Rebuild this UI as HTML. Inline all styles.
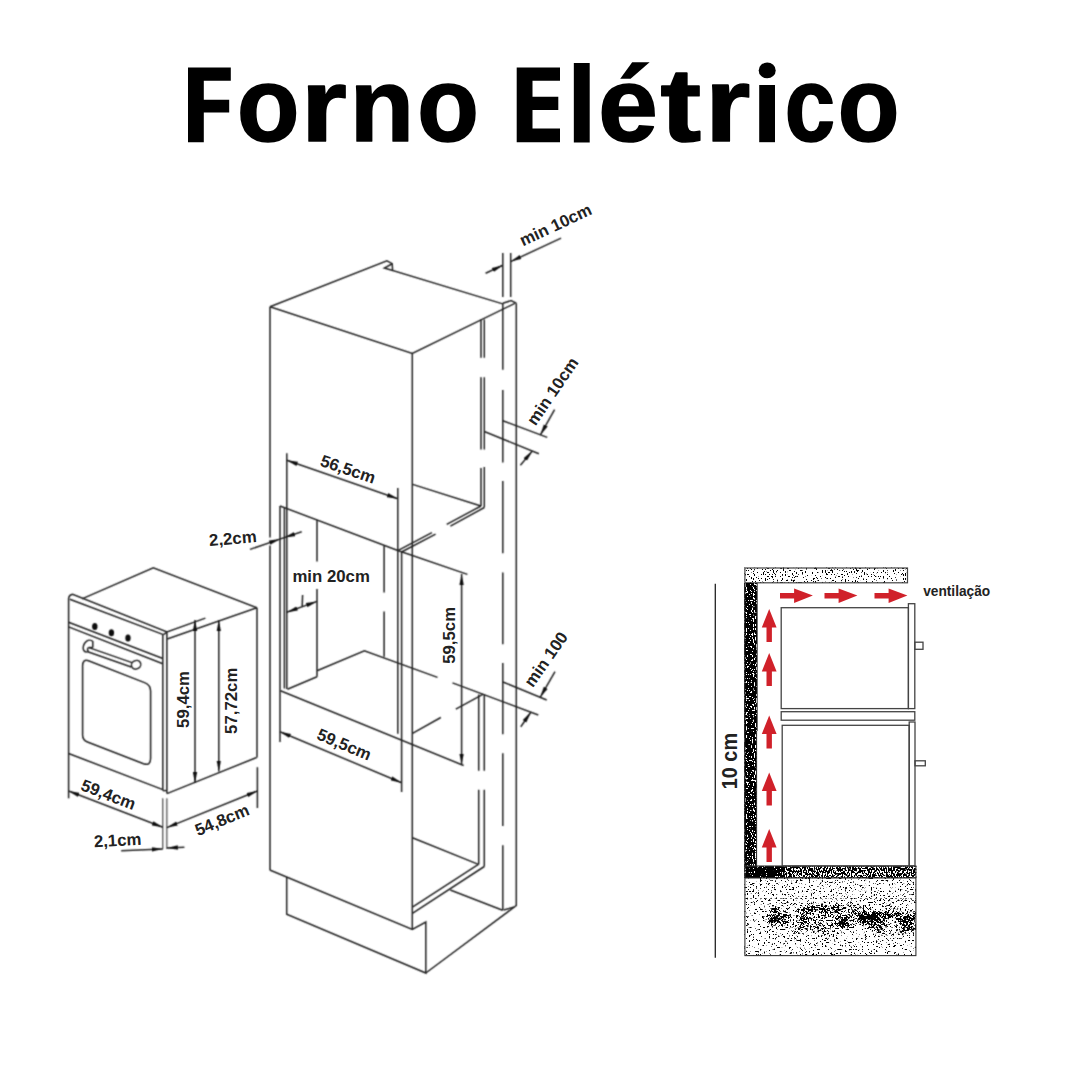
<!DOCTYPE html>
<html><head><meta charset="utf-8"><title>Forno Elétrico</title>
<style>
html,body{margin:0;padding:0;background:#fff;}
body{width:1080px;height:1080px;overflow:hidden;}
svg{display:block;}
.t{font-family:"Liberation Sans",sans-serif;font-weight:bold;fill:#222;}
.l{stroke:#222;stroke-width:1.5;fill:none;stroke-linecap:butt;}
.g{stroke:#3a3a3a;stroke-width:1.3;fill:none;}
</style></head>
<body>
<svg width="1080" height="1080" viewBox="0 0 1080 1080">
<defs>
<marker id="ah" viewBox="0 0 11 5" refX="11" refY="2.5" markerWidth="11" markerHeight="5" markerUnits="userSpaceOnUse" orient="auto-start-reverse"><path d="M0,0.3 L11,2.5 L0,4.7 z" fill="#111"/></marker>
<filter id="soft" x="0" y="0" width="1080" height="1080" filterUnits="userSpaceOnUse"><feConvolveMatrix order="3" kernelMatrix="1 3 1 3 9 3 1 3 1" divisor="25" edgeMode="none" preserveAlpha="false"/></filter>
</defs>
<rect width="1080" height="1080" fill="#fff"/>
<!-- TITLE -->
<g font-family="Liberation Sans, sans-serif" font-weight="bold" fill="#000" font-size="100">
<path d="M188,67.5 H230.8 V80.8 H203.8 V99.7 H229.2 V112.5 H203.8 V142.2 H188 Z"/>
<path d="M516.7,67.5 H560 V80.8 H532.5 V96.7 H558.3 V110 H532.5 V128.6 H560 V142.2 H516.7 Z"/>
<text transform="translate(237.11,141.40) scale(1.0212,1.0482)" stroke="#000" stroke-width="1.6" stroke-linejoin="round">o</text>
<text transform="translate(301.06,141.40) scale(1.1749,1.0472)" stroke="#000" stroke-width="1.6" stroke-linejoin="round">r</text>
<text transform="translate(349.65,141.40) scale(1.0540,1.0472)" stroke="#000" stroke-width="1.6" stroke-linejoin="round">n</text>
<text transform="translate(417.36,141.40) scale(1.0080,1.0482)" stroke="#000" stroke-width="1.6" stroke-linejoin="round">o</text>
<text transform="translate(565.71,142.20) scale(1.1588,1.0999)">l</text>
<text transform="translate(598.32,141.40) scale(1.0706,1.0482)" stroke="#000" stroke-width="1.6" stroke-linejoin="round">e</text>
<path d="M632.2,62.2 L649.6,62.2 L630.6,78.8 L620.2,78.8 Z"/>
<text transform="translate(660.61,141.40) scale(1.2184,1.0439)" stroke="#000" stroke-width="1.6" stroke-linejoin="round">t</text>
<text transform="translate(705.18,141.40) scale(1.1554,1.0472)" stroke="#000" stroke-width="1.6" stroke-linejoin="round">r</text>
<path d="M759.2,85 H775 V142.2 H759.2 Z"/>
<ellipse cx="767.2" cy="70.4" rx="8.5" ry="7.9"/>
<text transform="translate(784.76,141.40) scale(0.9061,1.0482)" stroke="#000" stroke-width="1.6" stroke-linejoin="round">c</text>
<text transform="translate(837.85,141.40) scale(1.0099,1.0482)" stroke="#000" stroke-width="1.6" stroke-linejoin="round">o</text>
</g>
<g id="diagram" filter="url(#soft)">
<!-- BIG CABINET -->
<g class="l" id="cab">
<!-- top face -->
<path d="M270,306.7 L386.9,260.8 L392.2,263.6 L392.6,270.5 L502.7,303.9"/>
<path d="M391.8,264 L384.4,268 L392.6,270.5"/>
<path d="M270,306.7 L412.3,353.5 L514.8,303.4"/>
<path d="M502.8,303.3 L511,300.6 L516.3,303.2"/>
<!-- left vertical (gap at 2,2 dim) -->
<path d="M270,306.7 V537.5 M270,545.5 V870"/>
<!-- front vertical -->
<path d="M412.3,353.5 V929.4"/>
<!-- bottom front edge and plinth -->
<path d="M269.8,870 L412.3,929.4 L425.8,922 V973 L286.7,914.2 V877.2"/>
<path d="M425.8,973 L514.4,907 L516.3,905.5"/>
<path d="M503.6,910 L514.4,907"/>
<path d="M450.3,890 L502.6,910.2"/>
<!-- side wall panel -->
<path d="M516.3,303.2 V906"/>
<path d="M502.8,303.3 V369.8 M502.8,390 V462.4 M502.8,481 V553.3 M502.8,572.6 V644.2 M502.8,663 V734.2 M502.8,753.3 V826 M502.8,845.2 V910.2"/>
<!-- inner back dashed double lines (upper) -->
<path d="M481,319.6 V357.8 M481,377.2 V449.4 M481,468 V506 M484.3,319.6 V357.8 M484.3,377.2 V449.4 M484.3,467 V507.5"/>
<!-- upper compartment shelf -->
<path d="M412.6,484.4 L480.9,506"/>
<path d="M481,506 L446.7,524.4 M484.3,507.5 L450.4,526.2 M431.9,532.6 L397.8,550.6 M435.6,534.1 L401.5,552"/>
<!-- oven niche -->
<path d="M280,506 L397.8,550.5 L467.4,574.4"/>
<path d="M280,506 V741.9"/>
<path d="M284.4,507.6 V688.5"/>
<path d="M286.8,453.3 V689"/>
<path d="M317,520 V561.5 M317,588.9 V676.7"/>
<path d="M384.1,546 V592.6 M384.1,611.5 V656.7"/>
<path d="M397.8,488.1 V733.7"/>
<path d="M401.6,552 V792"/>
<path d="M287.4,689.3 L317,676.7 M317,670.7 L364.4,650.7 L437.5,677.4 M452.5,682.9 L538.3,715"/>
<path d="M280.5,690.7 L463.6,765.5"/>
<!-- lower niche -->
<path d="M483.3,694.2 L455.8,709.2 M440.8,717.5 L412.5,733.3"/>
<path d="M478.7,694.6 V770.8 M478.7,789.8 V864.4 M484.3,694.2 V770.8 M484.3,789.8 V866.5"/>
<!-- lower compartment -->
<path d="M412.4,837.8 L478.4,864.4"/>
<path d="M478.4,864.4 L412.4,907.2 M484.3,866.5 L412.4,913.4"/>
<path d="M401.6,740 L440,756.7" stroke-width="0"/>
</g>
<!-- DIMENSIONS (big cabinet) -->
<g class="l" stroke-width="1.35">
<!-- min 10cm top -->
<path d="M502.8,253 V297 M510.7,253 V297"/>
<path d="M485.6,273.3 L502.8,265.3" marker-end="url(#ah)"/>
<path d="M561.1,238.1 L510.7,261.6" marker-end="url(#ah)"/>
<!-- min 10cm middle -->
<path d="M502.8,420.7 L547.2,437.4 M484.3,431.5 L538.9,453.7"/>
<path d="M554.6,409.6 L540.4,434.9" marker-end="url(#ah)"/>
<path d="M520.4,465.2 L532.3,451" marker-end="url(#ah)"/>
<!-- min 100 -->
<path d="M503,682 L546.7,700"/>
<path d="M555,671.7 L540.2,697.3" marker-end="url(#ah)"/>
<path d="M520.8,726.7 L530.8,712.3" marker-end="url(#ah)"/>
<!-- 56,5cm -->
<path d="M286.8,460.2 L397.8,498.8" marker-start="url(#ah)" marker-end="url(#ah)"/>
<!-- 59,5 vertical -->
<path d="M461.6,574 V764.5" marker-start="url(#ah)" marker-end="url(#ah)"/>
<!-- 59,5 bottom -->
<path d="M280,731.7 L401.6,782.7" marker-start="url(#ah)" marker-end="url(#ah)"/>
<!-- min 20 -->
<path d="M286.8,612.2 L317,601.4" marker-start="url(#ah)" marker-end="url(#ah)"/>
<path d="M302.6,595 L302.2,606.2"/>
<!-- 2,2 -->
<path d="M250,549.4 L280,539.1" marker-end="url(#ah)"/>
<path d="M301.7,531.7 L284.4,537.6" marker-end="url(#ah)"/>
<path d="M279,539.4 L285.4,537.3"/>
</g>

<!-- OVEN -->
<g class="l">
<!-- top -->
<path d="M82,598.9 L153.3,567.8 L256.9,607.8"/>
<path d="M68.6,598 Q69.5,594.6 72.6,594.3 L167,632 L205.4,618.1"/>
<path d="M167.2,639 L256.9,607.8"/>
<path d="M69.8,599.2 L163.4,634.6"/>
<path d="M163.4,634.6 L167,632.2"/>
<!-- left edge -->
<path d="M68.6,598 V798.3"/>
<!-- right back vertical -->
<path d="M257,607.8 V757.6"/>
<!-- front bezel verticals -->
<path d="M162.8,634.6 V790.6 M166.9,632.4 V793.6"/>
<path d="M162.8,790.6 L166.9,790.6"/>
<path d="M162.8,798.3 V848.9 M166.9,798.3 V848.9" stroke-width="1"/>
<!-- side -->
<path d="M166.9,793.6 L256.6,757.5"/>
<!-- control panel -->
<path d="M68.6,622.2 L162.8,658.5 M68.6,626.9 L162.8,663.7"/>
<!-- handle -->
<path d="M89,647.6 L132,662.6 M87.8,651.7 L131.2,667"/>
<path d="M92.8,647.6 V641.6 C91.2,639.8 88.4,639.9 86.4,641.4 C83.6,643.6 82.4,647.6 83.6,650.2 C84.6,652 86.6,652.2 88,651.6"/>
<path d="M88.4,651.4 C87,650.2 87.2,648 89,647.4 L92.8,647.6"/>
<ellipse cx="136.1" cy="664.8" rx="4.8" ry="4.2" transform="rotate(-30 136.1 664.8)"/>
<!-- door bottom -->
<path d="M68.6,753.5 L162.8,789.6"/>
<!-- window -->
<path d="M82.6,666 Q82.6,659 88.5,660.7 L144.5,682.6 Q150.6,685 150.6,691 V758.5 Q150.6,766 143.5,763.8 L87.5,742 Q82.6,740 82.6,735 Z"/>
</g>
<g fill="#111">
<ellipse cx="94.8" cy="626.4" rx="2.7" ry="3.5"/>
<ellipse cx="111.4" cy="632.8" rx="2.7" ry="3.5"/>
<ellipse cx="128" cy="638" rx="2.7" ry="3.5"/>
</g>
<g class="l" stroke-width="1.35">
<path d="M195,620 V783" marker-start="url(#ah)" marker-end="url(#ah)"/>
<path d="M218.8,620.3 V771.5" marker-start="url(#ah)" marker-end="url(#ah)"/>
<path d="M257.4,767.2 V808"/>
<path d="M68.6,791 L162.8,827.3" marker-start="url(#ah)" marker-end="url(#ah)"/>
<path d="M166.9,827.6 L257.4,791" marker-start="url(#ah)" marker-end="url(#ah)"/>
<path d="M121.2,850.8 L162.8,848.9" marker-end="url(#ah)"/>
<path d="M184.4,847.3 L166.9,848" marker-end="url(#ah)"/>
</g>

</g>
<!-- RIGHT DIAGRAM -->
<defs>
<filter id="spLight" x="0" y="0" width="1" height="1" color-interpolation-filters="sRGB">
<feTurbulence type="fractalNoise" baseFrequency="0.9 0.5" numOctaves="2" seed="7" result="n"/>
<feColorMatrix in="n" type="matrix" values="0 0 0 0 0  0 0 0 0 0  0 0 0 0 0  30 0 0 0 -18.5" result="m"/>
<feComposite in="m" in2="SourceGraphic" operator="in"/>
</filter>
<filter id="spDark" x="0" y="0" width="1" height="1" color-interpolation-filters="sRGB">
<feTurbulence type="fractalNoise" baseFrequency="0.9 0.5" numOctaves="2" seed="3" result="n"/>
<feColorMatrix in="n" type="matrix" values="0 0 0 0 0  0 0 0 0 0  0 0 0 0 0  30 0 0 0 -11" result="m"/>
<feComposite in="m" in2="SourceGraphic" operator="in"/>
</filter>
<filter id="spBand" x="0" y="0" width="1" height="1" color-interpolation-filters="sRGB">
<feTurbulence type="fractalNoise" baseFrequency="0.8 0.45" numOctaves="2" seed="5" result="n"/>
<feColorMatrix in="n" type="matrix" values="0 0 0 0 0  0 0 0 0 0  0 0 0 0 0  30 0 0 0 -13.5" result="m"/>
<feComposite in="m" in2="SourceGraphic" operator="in"/>
</filter>
<filter id="spBase" x="0" y="0" width="1" height="1" color-interpolation-filters="sRGB">
<feTurbulence type="fractalNoise" baseFrequency="0.55" numOctaves="2" seed="11" result="f"/>
<feColorMatrix in="f" type="matrix" values="0 0 0 0 0  0 0 0 0 0  0 0 0 0 0  14 0 0 0 -8.7" result="m"/>
<feComposite in="m" in2="SourceGraphic" operator="in"/>
</filter>
<filter id="spSoft" x="0" y="0" width="1" height="1" color-interpolation-filters="sRGB">
<feTurbulence type="fractalNoise" baseFrequency="0.6" numOctaves="2" seed="21" result="f"/>
<feColorMatrix in="f" type="matrix" values="1 0 0 0 0  1 0 0 0 0  1 0 0 0 0  0 0 0 0 1" result="f2"/>
<feTurbulence type="fractalNoise" baseFrequency="0.06 0.08" numOctaves="2" seed="9" result="c"/>
<feColorMatrix in="c" type="matrix" values="1 0 0 0 0  1 0 0 0 0  1 0 0 0 0  0 0 0 0 1" result="c2"/>
<feComposite in="f2" in2="c2" operator="arithmetic" k1="0" k2="1" k3="0.8" k4="-0.4" result="s"/>
<feColorMatrix in="s" type="matrix" values="0 0 0 0 0  0 0 0 0 0  0 0 0 0 0  1.6 0 0 0 -0.3" result="m"/>
<feComposite in="m" in2="SourceGraphic" operator="in"/>
</filter>
<filter id="thr" x="744" y="877" width="173" height="80" filterUnits="userSpaceOnUse" color-interpolation-filters="sRGB">
<feComponentTransfer><feFuncA type="linear" slope="12" intercept="-5.1"/></feComponentTransfer>
</filter>
<linearGradient id="blotG" x1="0" y1="0" x2="0" y2="1">
<stop offset="0" stop-color="#fff" stop-opacity="0"/>
<stop offset="0.3" stop-color="#fff" stop-opacity="0.55"/>
<stop offset="0.5" stop-color="#fff" stop-opacity="1"/>
<stop offset="0.75" stop-color="#fff" stop-opacity="0.55"/>
<stop offset="1" stop-color="#fff" stop-opacity="0"/>
</linearGradient>
<linearGradient id="blotGx" x1="0" y1="0" x2="1" y2="0">
<stop offset="0" stop-color="#fff" stop-opacity="0.3"/>
<stop offset="0.25" stop-color="#fff" stop-opacity="1"/>
<stop offset="1" stop-color="#fff" stop-opacity="1"/>
</linearGradient>
<mask id="blotM" maskUnits="userSpaceOnUse" x="744" y="877" width="173" height="80">
<rect x="744" y="885" width="173" height="65" fill="url(#blotG)"/>
</mask>
<mask id="blotMx" maskUnits="userSpaceOnUse" x="744" y="877" width="173" height="80">
<rect x="744" y="877" width="173" height="80" fill="url(#blotGx)"/>
</mask>
</defs>
<!-- thin dimension line -->
<path d="M715.3,583.7 V957.8" stroke="#222" stroke-width="1.3"/>
<!-- top slab -->
<rect x="744.4" y="567.5" width="163.5" height="15.5" fill="#000" filter="url(#spLight)"/>
<rect x="744.9" y="568" width="162.6" height="14.8" fill="none" stroke="#444" stroke-width="1.2"/>
<!-- left wall -->
<rect x="744.4" y="583" width="12.6" height="284" fill="#000" filter="url(#spDark)"/>
<path d="M744.9,583 V867" stroke="#111" stroke-width="1.2"/>
<path d="M757.2,583 V731 M756.6,731 V867" stroke="#333" stroke-width="1"/>
<!-- floor band -->
<rect x="744.4" y="866" width="172" height="12" fill="#000" filter="url(#spBand)"/>
<rect x="744.4" y="866" width="40" height="12" fill="#000" filter="url(#spDark)"/>
<!-- base block -->
<rect x="744.4" y="877.8" width="171.6" height="78.2" fill="#000" filter="url(#spBase)"/>
<g filter="url(#thr)"><g mask="url(#blotM)"><g mask="url(#blotMx)"><rect x="744.4" y="877.8" width="171.6" height="78.2" fill="#000" filter="url(#spSoft)"/></g></g></g>
<path d="M745,898.5 H916" stroke="#000" stroke-width="0.9" stroke-dasharray="2 3" opacity="0.6"/>
<rect x="744.9" y="866" width="171" height="89.6" fill="none" stroke="#333" stroke-width="1.1"/>
<path d="M744.9,877.8 H916" stroke="#222" stroke-width="1.2"/>
<!-- cabinets -->
<g fill="none" stroke="#444" stroke-width="1.3">
<rect x="781.2" y="607.7" width="127.2" height="100.9"/>
<rect x="908.4" y="603.7" width="6.4" height="104.9"/>
<rect x="914.8" y="642.2" width="8.2" height="7.1"/>
<rect x="781.2" y="711.7" width="133.6" height="8.5"/>
<rect x="782.2" y="725.3" width="127" height="140.6"/>
<rect x="909.2" y="722" width="5.8" height="143.8"/>
<rect x="915" y="760.8" width="10.3" height="5"/>
</g>
<!-- red arrows -->
<g fill="#d0212a">
<path id="au" d="M769.2,608.9 L776.6,627.4 L771.9,627.4 L771.9,641.9 L766.5,641.9 L766.5,627.4 L761.8,627.4 Z"/>
<use href="#au" transform="translate(0,44.1)"/>
<use href="#au" transform="translate(0,106.7)"/>
<use href="#au" transform="translate(0,163.7)"/>
<use href="#au" transform="translate(0,220)"/>
<path id="ar" d="M812.9,595.6 L794.1,588.4 L794.1,592.9 L780,592.9 L780,598.4 L794.1,598.4 L794.1,603 Z"/>
<use href="#ar" transform="translate(44.5,0)"/>
<use href="#ar" transform="translate(94.5,0)"/>
</g>


<g class="t" font-size="16.8">
<text transform="translate(346.1,474.7) rotate(18.9)" text-anchor="middle">56,5cm</text>
<text transform="translate(342,749.8) rotate(22.7)" text-anchor="middle">59,5cm</text>
<text transform="translate(455.2,635.4) rotate(-90)" text-anchor="middle">59,5cm</text>
<text x="331.15" y="581.7" text-anchor="middle">min 20cm</text>
<text transform="translate(233.3,544.1) rotate(-4.8)" text-anchor="middle">2,2cm</text>
<text transform="translate(558,230.1) rotate(-25)" text-anchor="middle">min 10cm</text>
<text transform="translate(557.3,394.5) rotate(-55.7)" text-anchor="middle">min 10cm</text>
<text transform="translate(550.7,662.6) rotate(-55.1)" text-anchor="middle">min 100</text>
</g>
<g class="t" font-size="16.8">
<text transform="translate(189,699.5) rotate(-90)" text-anchor="middle">59,4cm</text>
<text transform="translate(236.6,700.8) rotate(-90)" text-anchor="middle">57,72cm</text>
<text transform="translate(106.4,800) rotate(21.1)" text-anchor="middle">59,4cm</text>
<text transform="translate(224.2,825.3) rotate(-22.5)" text-anchor="middle">54,8cm</text>
<text transform="translate(117.9,846) rotate(-3)" text-anchor="middle">2,1cm</text>
</g>
<g class="t">
<text x="923.2" y="595.6" font-size="14" textLength="67" lengthAdjust="spacingAndGlyphs">ventilação</text>
<text transform="translate(736.7,761.1) rotate(-90)" text-anchor="middle" font-size="22.2" textLength="56.2" lengthAdjust="spacingAndGlyphs">10 cm</text>
</g>
</svg>
</body></html>
